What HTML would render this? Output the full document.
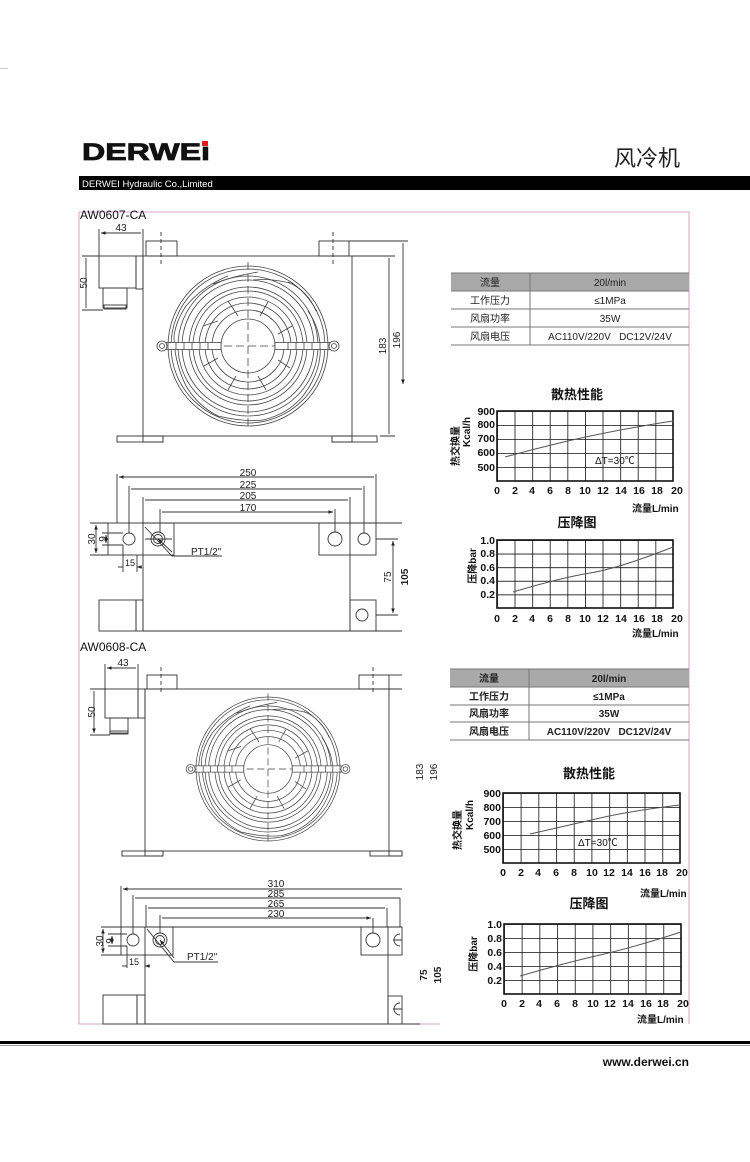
<!DOCTYPE html>
<html><head><meta charset="utf-8"><style>
html,body{margin:0;padding:0;background:#fff}
svg{display:block}
text{font-family:"Liberation Sans","Noto Sans CJK SC",sans-serif}
</style></head><body>
<svg width="750" height="1162" viewBox="0 0 750 1162" xmlns="http://www.w3.org/2000/svg">
<defs>
<marker id="ar" viewBox="0 0 10 10" refX="10" refY="5" markerWidth="5" markerHeight="5" orient="auto-start-reverse"><path d="M0,1 L10,5 L0,9z" fill="#222"/></marker>
<g id="fan" fill="none" stroke="#444" stroke-width="0.8">
<circle r="80"/><circle r="77"/><circle r="70"/><circle r="66"/><circle r="59"/><circle r="55"/><circle r="49"/><circle r="43"/><circle r="36"/><circle r="27"/>
<path d="M0,-84V84M-84,0H84" stroke-dasharray="8,4"/>
<path d="M-20,-70 Q-45,-60 -62,-40 M10,-74 Q-15,-70 -35,-62 M45,-62 Q25,-68 5,-66 M68,-35 Q60,-55 40,-64 M72,10 Q74,-15 60,-35 M55,50 Q70,30 72,10 M15,74 Q40,68 55,50 M-30,70 Q-5,76 15,74 M-62,40 Q-50,60 -30,70 M-74,-10 Q-74,15 -62,40 M-62,-40 Q-72,-25 -74,-10"/>
<path d="M-45,-20 L-30,-25 M-20,-45 L-10,-30 M20,-44 L12,-30 M44,-20 L30,-12 M42,22 L30,14 M18,44 L10,30 M-20,44 L-12,30 M-44,20 L-30,12"/>
<rect x="-88" y="-3.5" width="61" height="7" fill="#fff"/><rect x="27" y="-3.5" width="61" height="7" fill="#fff"/>
<path d="M-80,-3.5V3.5M-72,-3.5V3.5M-64,-3.5V3.5M-56,-3.5V3.5M-48,-3.5V3.5M-40,-3.5V3.5M40,-3.5V3.5M48,-3.5V3.5M56,-3.5V3.5M64,-3.5V3.5M72,-3.5V3.5M80,-3.5V3.5"/>
<circle cx="-86" r="5" fill="#fff"/><circle cx="86" r="5" fill="#fff"/><circle cx="-86" r="2.5"/><circle cx="86" r="2.5"/>
</g>
<pattern id="gA" x="497" y="411" width="17.6" height="14" patternUnits="userSpaceOnUse"><path d="M0,0V14M0,0H17.6" stroke="#111" stroke-width="1.6" fill="none"/></pattern>
<pattern id="gB" x="497" y="540" width="17.6" height="13.6" patternUnits="userSpaceOnUse"><path d="M0,0V13.6M0,0H17.6" stroke="#111" stroke-width="1.6" fill="none"/></pattern>
<pattern id="gC" x="503" y="793" width="17.7" height="14" patternUnits="userSpaceOnUse"><path d="M0,0V14M0,0H17.7" stroke="#111" stroke-width="1.6" fill="none"/></pattern>
<pattern id="gD" x="504" y="924" width="17.7" height="14" patternUnits="userSpaceOnUse"><path d="M0,0V14M0,0H17.7" stroke="#111" stroke-width="1.6" fill="none"/></pattern>
</defs>

<!-- header -->
<text x="82" y="160" font-size="24" font-weight="bold" fill="#111" textLength="128" lengthAdjust="spacingAndGlyphs" stroke="#111" stroke-width="0.8">DERWEı</text>
<rect x="202" y="141" width="6" height="5" fill="#e21b1b"/>
<text x="614" y="166" font-size="22" fill="#222">风冷机</text>
<rect x="79" y="176" width="671" height="14" fill="#000"/>
<text x="82" y="187" font-size="9.5" fill="#fff">DERWEI Hydraulic Co.,Limited</text>
<rect x="0" y="68" width="8" height="1" fill="#ccc"/>

<!-- frame -->
<path d="M79,212H689V1024M79,212V1024H440" fill="none" stroke="#d9a3c8" stroke-width="1"/>
<text x="80" y="219" font-size="12" fill="#111">AW0607-CA</text>
<text x="80" y="651" font-size="12" fill="#111">AW0608-CA</text>

<g fill="none" stroke="#333" stroke-width="0.9">
<!-- ===== view 1 top ===== -->
<rect x="143" y="256" width="209" height="180"/>
<rect x="146" y="241" width="31" height="15"/><rect x="319" y="241" width="30" height="15"/>
<path d="M161,232V264M333,232V264" stroke-dasharray="4,3"/>
<rect x="99" y="256" width="37" height="32"/><rect x="136" y="256" width="7" height="33"/>
<rect x="103" y="288" width="24" height="20"/><rect x="104" y="305" width="22" height="4"/>
<rect x="117" y="436" width="46" height="6"/><rect x="143" y="436" width="20" height="6"/>
<rect x="332" y="436" width="45" height="6"/><rect x="332" y="436" width="20" height="6"/>
<path d="M99,229V256M143,229V256M352,256H395M349,241H408M380,436H395"/>
<path d="M101,233H141M86,258V308M389,258V434M403,243V384" marker-start="url(#ar)" marker-end="url(#ar)"/>
<path d="M82,256H99M82,310H103"/>
<use href="#fan" transform="translate(248,346)"/>

<!-- ===== view 1 bottom ===== -->
<path d="M143,523H402M143,631H402"/>
<path d="M143,523V631M350,523V631"/>
<rect x="108" y="523" width="66" height="32"/><rect x="319" y="523" width="57" height="32"/>
<rect x="350" y="600" width="26" height="31"/>
<rect x="99" y="600" width="37" height="31"/><rect x="136" y="600" width="7" height="31"/>
<rect x="123" y="533" width="12" height="12" rx="6"/><rect x="358" y="533" width="12" height="12" rx="6"/>
<circle cx="158" cy="539" r="7"/><circle cx="158" cy="539" r="4.5"/><circle cx="335" cy="539" r="7"/>
<circle cx="362" cy="615" r="6"/>
<path d="M117,474V523M376,474V523M129,486V533M364,486V533M143,497V523M350,497V523M160,509V532M335,509V532"/>
<path d="M119,477H374M131,489H362M145,500H348M162,512H333" marker-start="url(#ar)" marker-end="url(#ar)"/>
<path d="M90,523H108M90,555H108M102,533H123M102,545H123M123,545V572M137,555V572"/>
<path d="M96,525V553" marker-start="url(#ar)" marker-end="url(#ar)"/>
<path d="M106,535V543" marker-start="url(#ar)" marker-end="url(#ar)"/>
<path d="M118,567H123M142,567H137" marker-end="url(#ar)"/>
<path d="M145,527L172,556H222" /><path d="M172,552L158,539" marker-end="url(#ar)"/>
<path d="M376,539H398M376,615H398M145,539H172"/>
<path d="M393,541V613" marker-start="url(#ar)" marker-end="url(#ar)"/>

<!-- ===== view 2 top ===== -->
<rect x="145" y="689" width="244" height="162"/>
<path d="M389,689H402M389,851H402"/>
<rect x="147" y="675" width="30" height="14"/><rect x="359" y="675" width="30" height="14"/><path d="M389,675H402"/>
<path d="M161,667V694M373,667V694" stroke-dasharray="4,3"/>
<rect x="105" y="689" width="33" height="29"/><rect x="138" y="689" width="7" height="29"/>
<rect x="110" y="718" width="18" height="15"/><rect x="110" y="731" width="18" height="3"/>
<rect x="122" y="851" width="41" height="5"/><rect x="145" y="851" width="18" height="5"/>
<rect x="370" y="851" width="32" height="5"/><rect x="389" y="851" width="13" height="5"/>
<path d="M105,664V689M138,664V689M90,689H105M90,735H110"/>
<path d="M107,668H136M94,691V733" marker-start="url(#ar)" marker-end="url(#ar)"/>
<use href="#fan" transform="translate(268,769) scale(0.9)"/>

<!-- ===== view 2 bottom ===== -->
<path d="M145,927H402M145,1024H420"/>
<path d="M145,927V1024M388,927V1024"/>
<rect x="121" y="927" width="52" height="28"/><rect x="361" y="927" width="41" height="28"/>
<rect x="388" y="996" width="14" height="28"/>
<rect x="103" y="995" width="34" height="29"/><rect x="137" y="995" width="8" height="29"/>
<rect x="127" y="934" width="12" height="12" rx="6"/>
<circle cx="160" cy="940" r="7"/><circle cx="160" cy="940" r="4.5"/><circle cx="373" cy="940" r="7"/>
<path d="M400,934A6,6 0 0 0 400,946M393,940H402M400,1003A6,6 0 0 0 400,1015M393,1009H402"/>
<path d="M121,886V927M133,895V934M146,905V927M160,915V933"/>
<path d="M123,889H402M135,898H400M148,908H385M162,918H371" marker-start="url(#ar)" marker-end="url(#ar)"/>
<path d="M400,898V927M387,908V927M373,918V933"/>
<path d="M101,927H121M101,955H121M108,934H127M108,946H127M127,946V968M145,955V968"/>
<path d="M103,929V953" marker-start="url(#ar)" marker-end="url(#ar)"/>
<path d="M112,936V944" marker-start="url(#ar)" marker-end="url(#ar)"/>
<path d="M122,966H127M150,966H145" marker-end="url(#ar)"/>
<path d="M147,929L174,962H218"/><path d="M174,958L160,940" marker-end="url(#ar)"/>
</g>

<!-- drawing text -->
<g font-size="10" fill="#222">
<text x="121" y="231" text-anchor="middle">43</text>
<text transform="translate(87,283) rotate(-90)" text-anchor="middle">50</text>
<text transform="translate(386,346) rotate(-90)" text-anchor="middle">183</text>
<text transform="translate(400,340) rotate(-90)" text-anchor="middle">196</text>
<text x="248" y="476" text-anchor="middle">250</text>
<text x="248" y="488" text-anchor="middle">225</text>
<text x="248" y="499" text-anchor="middle">205</text>
<text x="248" y="511" text-anchor="middle">170</text>
<text transform="translate(95,539) rotate(-90)" text-anchor="middle">30</text>
<text transform="translate(106,539) rotate(-90)" text-anchor="middle">9</text>
<text x="130" y="566" text-anchor="middle" font-size="9">15</text>
<text x="191" y="555">PT1/2"</text>
<text transform="translate(391,577) rotate(-90)" text-anchor="middle">75</text>
<text transform="translate(408,577) rotate(-90)" text-anchor="middle" font-weight="bold">105</text>

<text x="123" y="666" text-anchor="middle">43</text>
<text transform="translate(95,712) rotate(-90)" text-anchor="middle">50</text>
<text transform="translate(423,772) rotate(-90)" text-anchor="middle">183</text>
<text transform="translate(437,772) rotate(-90)" text-anchor="middle">196</text>
<text x="276" y="887" text-anchor="middle">310</text>
<text x="276" y="897" text-anchor="middle">285</text>
<text x="276" y="907" text-anchor="middle">265</text>
<text x="276" y="917" text-anchor="middle">230</text>
<text transform="translate(103,941) rotate(-90)" text-anchor="middle">30</text>
<text transform="translate(113,941) rotate(-90)" text-anchor="middle">9</text>
<text x="134" y="965" text-anchor="middle" font-size="9">15</text>
<text x="187" y="960">PT1/2"</text>
<text transform="translate(427,975) rotate(-90)" text-anchor="middle" font-weight="bold">75</text>
<text transform="translate(441,975) rotate(-90)" text-anchor="middle" font-weight="bold">105</text>
</g>

<!-- ===== table 1 ===== -->
<rect x="451" y="273" width="238" height="18" fill="#a9a9a9"/>
<g stroke="#777" stroke-width="1" fill="none">
<path d="M451,273H689M451,291H689M451,309H689M451,327H689M451,345H689M530,273V345"/>
</g>
<g font-size="10" fill="#222" text-anchor="middle">
<text x="490" y="286">流量</text><text x="610" y="286">20l/min</text>
<text x="490" y="304">工作压力</text><text x="610" y="304">≤1MPa</text>
<text x="490" y="322">风扇功率</text><text x="610" y="322">35W</text>
<text x="490" y="340">风扇电压</text><text x="610" y="340">AC110V/220V &#160;&#160;DC12V/24V</text>
</g>

<!-- chart A -->
<text x="577" y="399" font-size="13" font-weight="bold" text-anchor="middle" fill="#111">散热性能</text>
<rect x="497" y="411" width="176" height="70" fill="url(#gA)" stroke="#111" stroke-width="1.6"/>
<path d="M505,457 Q560,442 600,434 T673,421" fill="none" stroke="#555" stroke-width="1"/>
<g font-size="10.5" font-weight="bold" fill="#111" text-anchor="end">
<text x="495" y="415">900</text><text x="495" y="428">800</text><text x="495" y="442">700</text><text x="495" y="456">600</text><text x="495" y="471">500</text>
</g>
<text transform="translate(459,446) rotate(-90)" font-size="10" font-weight="bold" text-anchor="middle" fill="#111">热交换量</text>
<text transform="translate(470,432) rotate(-90)" font-size="10" font-weight="bold" text-anchor="middle" fill="#111">Kcal/h</text>
<text x="595" y="464" font-size="10" fill="#111">ΔT=30℃</text>
<g font-size="10.5" font-weight="bold" fill="#111" text-anchor="middle">
<text y="494"><tspan x="497">0</tspan><tspan x="515">2</tspan><tspan x="532">4</tspan><tspan x="550">6</tspan><tspan x="568">8</tspan><tspan x="585">10</tspan><tspan x="603">12</tspan><tspan x="621">14</tspan><tspan x="639">16</tspan><tspan x="657">18</tspan><tspan x="677">20</tspan></text>
</g>
<text x="632" y="512" font-size="10" font-weight="bold" fill="#111">流量L/min</text>

<!-- chart B -->
<text x="577" y="527" font-size="13" font-weight="bold" text-anchor="middle" fill="#111">压降图</text>
<rect x="497" y="540" width="176" height="68" fill="url(#gB)" stroke="#111" stroke-width="1.6"/>
<path d="M513,592 Q560,578 590,573 T673,547" fill="none" stroke="#555" stroke-width="1"/>
<g font-size="10.5" font-weight="bold" fill="#111" text-anchor="end">
<text x="495" y="544">1.0</text><text x="495" y="557">0.8</text><text x="495" y="571">0.6</text><text x="495" y="584">0.4</text><text x="495" y="598">0.2</text>
</g>
<text transform="translate(476,566) rotate(-90)" font-size="10" font-weight="bold" text-anchor="middle" fill="#111">压降bar</text>
<text y="622" font-size="10.5" font-weight="bold" fill="#111" text-anchor="middle"><tspan x="497">0</tspan><tspan x="515">2</tspan><tspan x="532">4</tspan><tspan x="550">6</tspan><tspan x="568">8</tspan><tspan x="585">10</tspan><tspan x="603">12</tspan><tspan x="621">14</tspan><tspan x="639">16</tspan><tspan x="657">18</tspan><tspan x="677">20</tspan></text>
<text x="632" y="637" font-size="10" font-weight="bold" fill="#111">流量L/min</text>

<!-- ===== table 2 ===== -->
<rect x="450" y="669" width="239" height="18" fill="#a9a9a9"/>
<g stroke="#777" stroke-width="1" fill="none">
<path d="M450,669H689M450,687H689M450,705H689M450,722H689M450,740H689M529,669V740"/>
</g>
<g font-size="10" font-weight="bold" fill="#222" text-anchor="middle">
<text x="489" y="682">流量</text><text x="609" y="682">20l/min</text>
<text x="489" y="700">工作压力</text><text x="609" y="700">≤1MPa</text>
<text x="489" y="717">风扇功率</text><text x="609" y="717">35W</text>
<text x="489" y="735">风扇电压</text><text x="609" y="735">AC110V/220V &#160;&#160;DC12V/24V</text>
</g>

<!-- chart C -->
<text x="589" y="778" font-size="13" font-weight="bold" text-anchor="middle" fill="#111">散热性能</text>
<rect x="503" y="793" width="177" height="70" fill="url(#gC)" stroke="#111" stroke-width="1.6"/>
<path d="M530,834 Q570,825 600,818 T680,805" fill="none" stroke="#555" stroke-width="1"/>
<g font-size="10.5" font-weight="bold" fill="#111" text-anchor="end">
<text x="501" y="797">900</text><text x="501" y="811">800</text><text x="501" y="825">700</text><text x="501" y="839">600</text><text x="501" y="853">500</text>
</g>
<text transform="translate(461,830) rotate(-90)" font-size="10" font-weight="bold" text-anchor="middle" fill="#111">热交换量</text>
<text transform="translate(473,815) rotate(-90)" font-size="10" font-weight="bold" text-anchor="middle" fill="#111">Kcal/h</text>
<text x="578" y="846" font-size="10" fill="#111">ΔT=30℃</text>
<text y="876" font-size="10.5" font-weight="bold" fill="#111" text-anchor="middle"><tspan x="503">0</tspan><tspan x="521">2</tspan><tspan x="538">4</tspan><tspan x="556">6</tspan><tspan x="574">8</tspan><tspan x="592">10</tspan><tspan x="609">12</tspan><tspan x="627">14</tspan><tspan x="645">16</tspan><tspan x="662">18</tspan><tspan x="682">20</tspan></text>
<text x="640" y="897" font-size="10" font-weight="bold" fill="#111">流量L/min</text>

<!-- chart D -->
<text x="589" y="908" font-size="13" font-weight="bold" text-anchor="middle" fill="#111">压降图</text>
<rect x="504" y="924" width="177" height="70" fill="url(#gD)" stroke="#111" stroke-width="1.6"/>
<path d="M520,976 Q565,963 600,955 T681,932" fill="none" stroke="#555" stroke-width="1"/>
<g font-size="10.5" font-weight="bold" fill="#111" text-anchor="end">
<text x="502" y="928">1.0</text><text x="502" y="942">0.8</text><text x="502" y="956">0.6</text><text x="502" y="970">0.4</text><text x="502" y="984">0.2</text>
</g>
<text transform="translate(477,954) rotate(-90)" font-size="10" font-weight="bold" text-anchor="middle" fill="#111">压降bar</text>
<text y="1007" font-size="10.5" font-weight="bold" fill="#111" text-anchor="middle"><tspan x="504">0</tspan><tspan x="522">2</tspan><tspan x="539">4</tspan><tspan x="557">6</tspan><tspan x="575">8</tspan><tspan x="593">10</tspan><tspan x="610">12</tspan><tspan x="628">14</tspan><tspan x="646">16</tspan><tspan x="663">18</tspan><tspan x="683">20</tspan></text>
<text x="637" y="1023" font-size="10" font-weight="bold" fill="#111">流量L/min</text>

<!-- footer -->
<rect x="0" y="1041" width="750" height="3" fill="#000"/>
<rect x="0" y="1045" width="750" height="1" fill="#999"/>
<text x="689" y="1066" font-size="12" font-weight="bold" text-anchor="end" fill="#111">www.derwei.cn</text>
</svg>
</body></html>
